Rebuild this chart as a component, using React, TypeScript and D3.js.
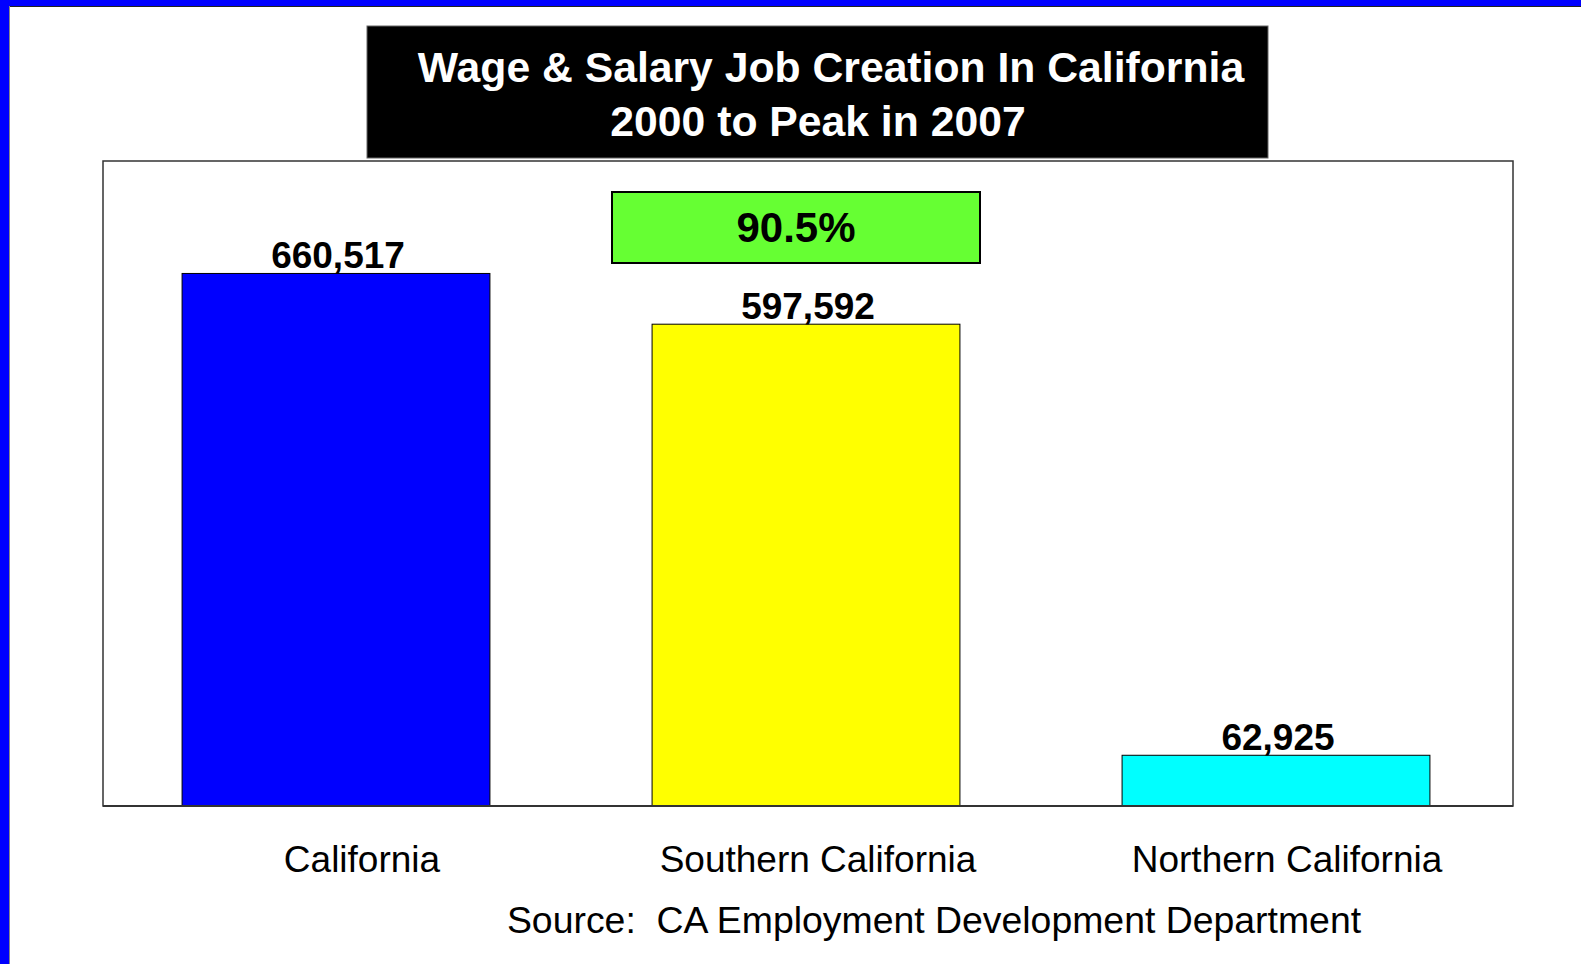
import React from "react";
import * as d3 from "d3";

const categories = ["California", "Southern California", "Northern California"];
const jobValues = [660517, 597592, 62925];
const barColors = ["#0000FF", "#FFFF00", "#00FFFF"];
const titleLines = ["Wage & Salary Job Creation In California", "2000 to Peak in 2007"];
const shareLabel = "90.5%";
const sourceText = "Source:  CA Employment Development Department";
const yMax = 800000;

const W = 1581;
const H = 964;
const plot = { left: 103, top: 161, right: 1513, bottom: 806 };
const labelNudge = [26, 12, 11];
const font = "'Liberation Sans', Arial, Helvetica, sans-serif";

export default function App() {
  const x = d3
    .scaleBand<string>()
    .domain(categories)
    .range([plot.left - 2, plot.right - 2])
    .paddingInner(0.345)
    .paddingOuter(0.1725);
  const y = d3.scaleLinear().domain([0, yMax]).range([plot.bottom, plot.top]);
  const fmt = d3.format(",");

  return (
    <svg
      width={W}
      height={H}
      style={{ position: "fixed", left: 0, top: 0, background: "#fff" }}
      fontFamily={font}
    >
      <rect x={0} y={0} width={W} height={H} fill="#fff" />
      {/* blue frame on top and left */}
      <rect x={0} y={0} width={W} height={6} fill="#0000FF" />
      <rect x={0} y={0} width={9} height={H} fill="#0000FF" />
      <line x1={9} y1={6.5} x2={W} y2={6.5} stroke="#222" strokeWidth={1} />
      <line x1={9.5} y1={6} x2={9.5} y2={H} stroke="#888" strokeWidth={1} />

      {/* title box */}
      <rect x={367} y={26} width={901} height={132} fill="#000" stroke="#666" strokeWidth={1} />
      <text x={831} y={82} textAnchor="middle" fill="#fff" fontWeight="bold" fontSize={42.7}>
        {titleLines[0]}
      </text>
      <text x={818} y={136} textAnchor="middle" fill="#fff" fontWeight="bold" fontSize={42.7}>
        {titleLines[1]}
      </text>

      {/* plot frame */}
      <rect
        x={plot.left}
        y={plot.top}
        width={plot.right - plot.left}
        height={plot.bottom - plot.top}
        fill="#fff"
        stroke="#333"
        strokeWidth={1.5}
      />

      {/* bars */}
      {categories.map((c, i) => (
        <rect
          key={c}
          x={x(c)!}
          y={y(jobValues[i])}
          width={x.bandwidth()}
          height={y(0) - y(jobValues[i])}
          fill={barColors[i]}
          stroke="#000"
          strokeWidth={1}
        />
      ))}
      <line
        x1={plot.left}
        x2={plot.right}
        y1={plot.bottom}
        y2={plot.bottom}
        stroke="#333"
        strokeWidth={2}
      />

      {/* value labels */}
      {categories.map((c, i) => (
        <text
          key={c + "v"}
          x={x(c)! + x.bandwidth() / 2 + 2}
          y={y(jobValues[i]) - 5}
          textAnchor="middle"
          fontWeight="bold"
          fontSize={37}
          fill="#000"
        >
          {fmt(jobValues[i])}
        </text>
      ))}

      {/* share box */}
      <rect x={612} y={192} width={368} height={71} fill="#66FF33" stroke="#000" strokeWidth={2} />
      <text x={796} y={242} textAnchor="middle" fontWeight="bold" fontSize={42} fill="#000">
        {shareLabel}
      </text>

      {/* category labels */}
      {categories.map((c, i) => (
        <text
          key={c + "c"}
          x={x(c)! + x.bandwidth() / 2 + labelNudge[i]}
          y={872}
          textAnchor="middle"
          fontSize={37}
          fill="#000"
        >
          {c}
        </text>
      ))}

      <text x={934} y={933} textAnchor="middle" fontSize={37.4} fill="#000" style={{ whiteSpace: "pre" }}>
        {sourceText}
      </text>
    </svg>
  );
}
